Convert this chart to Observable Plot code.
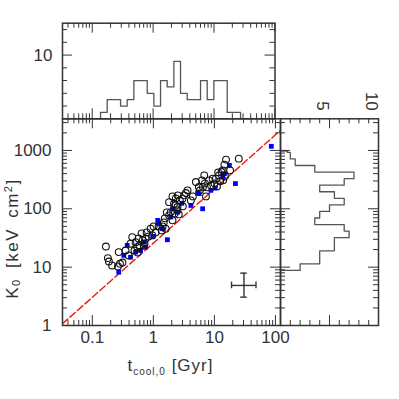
<!DOCTYPE html>
<html><head><meta charset="utf-8">
<script src="https://cdn.jsdelivr.net/npm/d3@7"></script>
<script src="https://cdn.jsdelivr.net/npm/@observablehq/plot@0.6"></script>
<style>
html,body{margin:0;padding:0;background:#fff;}
#chart{position:relative;width:399px;height:399px;background:#fff;overflow:hidden;}
#chart svg{position:absolute;left:0;top:0;background:transparent !important;}
</style></head><body><div id="chart"></div>
<script>
// ---- data ----
const circleT = [0.167,0.180,0.187,0.211,0.271,0.284,0.263,0.350,0.312,0.423,
  0.451,0.392,0.511,0.545,0.492,0.573,0.595,0.551,0.642,0.700,
  0.746,0.666,0.776,0.719,0.903,0.963,0.837,1.01,1.09,1.22,
  1.59,1.48,1.66,1.37,1.54,1.42,1.81,2.06,1.93,1.81,
  2.06,2.48,2.33,2.18,2.48,2.61,2.33,2.71,2.24,2.51,
  3.00,3.19,3.41,3.04,3.63,4.12,4.44,4.98,5.57,5.79,
  6.49,6.82,7.27,7.55,6.25,7.00,8.15,9.37,8.79,10.6,
  10.0,11.9,11.0,12.4,11.5,13.1,13.7,14.6,15.5,14.9,
  13.9,18.1,25.1];
const circleK = [22.6,14.3,12.5,10.7,18.1,11.4,10.3,19.3,12.0,25.2,
  32.7,15.9,26.8,22.0,19.3,31.1,23.6,17.9,37.9,23.6,
  30.7,28.7,39.4,25.5,45.6,35.0,33.6,49.9,39.4,49.9,
  45.6,58.5,86.8,42.6,68.5,49.9,77.1,63.3,87.8,130,
  163,93.9,114,122,107,80.2,151,139,83.4,170,
  149,170,186,110,207,139,163,287,236,207,
  236,374,163,233,307,273,307,328,252,328,
  273,374,242,295,421,426,456,571,696,360,
  307,456,723];
const squareT = [0.271,0.328,0.373,0.423,0.511,0.700,0.746,0.618,1.24,1.41,
  1.18,1.70,1.93,2.06,2.48,4.12,5.31,6.42,5.64,10.3,
  13.7,14.6,17.6,22.1,85.6,0.974,2.93,8.79];
const squareK = [8.21,15.9,23.6,14.8,18.1,26.8,22.0,19.3,55.5,45.6,
  63.3,29.5,72.1,100,87.8,114,186,100,182,227,
  350,400,555,270,1176,33.6,124,207];
const fitT = [0.0325, 121];
const fitK = [1.07, 2213];
const errorT = [19.1, 30.5, 48.0];   // low, centre, high
const errorK = [3.06, 4.86, 7.89];   // low, centre, high
const topEdgesT = [0.137,0.176,0.227,0.292,0.375,0.483,0.621,0.800,1.029,1.324,1.703,
  2.192,2.820,3.629,4.670,6.009,7.732,9.949,12.80,16.48,21.20,27.28];
const topCounts = [1,3,3,2,3,6,6,4,2,6,5,9,4,3,3,6,3,6,6,1,1];
const rightEdgesK = [8.77,11.36,14.72,19.06,24.70,31.99,41.44,53.69,69.56,90.08,
  116.7,151.2,195.8,253.7,328.6,425.6,551.3,714.3,925.1,977.2];
const rightCounts = [2,4,4,5.5,5.5,7,6.5,3.5,4,5,6.5,5.5,4,6.5,7.5,3.5,1.5,1,0.7];
const xTickLabels = [0.1, 1, 10, 100];
const yTickLabels = [1, 10, 100, 1000];
const topTickLabels = [10];
const rightTickLabels = [5, 10];

// ---- styling / layout ----
const ink = "#333";
const font = "'Liberation Sans', Arial, Helvetica, sans-serif";
const FS = 17;
const main = {L: 62, R: 280, T: 118.3, B: 325};
const topP = {L: 62, R: 274.5, T: 22.7, B: 118.3};
const rightP = {L: 280, R: 378, T: 118.3, B: 325};
const MAJ = 10, MIN = 5;

function logMinor(lo, hi) {
  const out = [];
  for (let e = -2; e <= 4; e++) for (let m = 2; m <= 9; m++) {
    const v = +(m * Math.pow(10, e)).toPrecision(6);
    if (v > lo && v < hi) out.push(v);
  }
  return out;
}
function xTicks(vals, len, fh, side) {
  const o = {x: d => d, stroke: ink, strokeWidth: 1};
  if (side === "bottom") o.insetTop = fh - len; else o.insetBottom = fh - len;
  return Plot.ruleX(vals, o);
}
function yTicks(vals, len, fw, side) {
  const o = {y: d => d, stroke: ink, strokeWidth: 1};
  if (side === "left") o.insetRight = fw - len; else o.insetLeft = fw - len;
  return Plot.ruleY(vals, o);
}
function panel(p, extra) {
  return Object.assign({
    width: 399, height: 399,
    marginLeft: p.L, marginRight: 399 - p.R, marginTop: p.T, marginBottom: 399 - p.B,
    style: {background: "transparent", fontFamily: font}
  }, extra);
}
const txt = {fontSize: FS, fill: ink, fontFamily: font};

const xDomMain = [0.0325, 121], yDom = [1, 3483];
const xMinorMain = logMinor(xDomMain[0], xDomMain[1]);
const yMinor = logMinor(yDom[0], yDom[1]);
const mFW = main.R - main.L, mFH = main.B - main.T;

// ---- main scatter panel ----
const mainSvg = Plot.plot(panel(main, {
  x: {type: "log", domain: xDomMain, axis: null},
  y: {type: "log", domain: yDom, axis: null},
  marks: [
    Plot.line(fitK, {x: fitT, y: fitK, stroke: "#f01414", strokeWidth: 1.4, strokeDasharray: "7,3", clip: true}),
    Plot.dot(squareK, {x: squareT, y: squareK, symbol: "square", r: 2.7, fill: "#0000ff"}),
    Plot.dot(circleK, {x: circleT, y: circleK, r: 3.4, stroke: "#111", strokeWidth: 1.1, fill: "none"}),
    // error cross
    Plot.ruleY([errorK[1]], {y: d => d, x1: () => errorT[0], x2: () => errorT[2], stroke: ink, strokeWidth: 1.4}),
    Plot.ruleX([errorT[1]], {x: d => d, y1: () => errorK[0], y2: () => errorK[2], stroke: ink, strokeWidth: 1.4}),
    Plot.ruleX([errorT[0], errorT[2]], {x: d => d, y1: () => errorK[1] / 1.14, y2: () => errorK[1] * 1.14, stroke: ink, strokeWidth: 1.4}),
    Plot.ruleY([errorK[0], errorK[2]], {y: d => d, x1: () => errorT[1] / 1.13, x2: () => errorT[1] * 1.13, stroke: ink, strokeWidth: 1.4}),
    // ticks
    xTicks(xTickLabels, MAJ, mFH, "bottom"), xTicks(xMinorMain, MIN, mFH, "bottom"),
    xTicks(xTickLabels, MAJ, mFH, "top"), xTicks(xMinorMain, MIN, mFH, "top"),
    yTicks(yTickLabels, MAJ, mFW, "left"), yTicks(yMinor, MIN, mFW, "left"),
    yTicks(yTickLabels, MAJ, mFW, "right"), yTicks(yMinor, MIN, mFW, "right"),
    Plot.frame({stroke: ink, strokeWidth: 1.5}),
    Plot.text(xTickLabels, {x: d => d, text: d => String(d), frameAnchor: "bottom", dy: 17, ...txt}),
    Plot.text(yTickLabels, {y: d => d, text: d => String(d), frameAnchor: "left", textAnchor: "end", dx: -11, ...txt})
  ]
}));

// axis titles with sub/superscripts
{
  const s = d3.select(mainSvg);
  const yt = s.append("text").attr("transform", "translate(18,238.5) rotate(-90)")
    .attr("text-anchor", "middle").attr("font-family", font).attr("font-size", FS)
    .attr("fill", ink).attr("letter-spacing", 1.5).attr("word-spacing", 4);
  yt.append("tspan").text("K");
  yt.append("tspan").attr("font-size", 11).attr("dy", 2).text("0");
  yt.append("tspan").attr("dy", -2).text(" [keV cm");
  yt.append("tspan").attr("font-size", 11).attr("dy", -6).text("2");
  yt.append("tspan").attr("dy", 6).text("]");
  const xt = s.append("text").attr("x", 170.5).attr("y", 371)
    .attr("text-anchor", "middle").attr("font-family", font).attr("font-size", FS)
    .attr("fill", ink).attr("letter-spacing", 1);
  xt.append("tspan").text("t");
  xt.append("tspan").attr("font-size", 10).attr("dy", 4).text("cool,0");
  xt.append("tspan").attr("dy", -4).text(" [Gyr]");
}

// ---- top histogram (t_cool) ----
const topPts = [{x: topEdgesT[0], y: 0}];
topCounts.forEach((c, i) => { topPts.push({x: topEdgesT[i], y: c}, {x: topEdgesT[i + 1], y: c}); });
topPts.push({x: topEdgesT[topEdgesT.length - 1], y: 0});
const xDomTop = [0.0325, 100.4];
const xMinorTop = logMinor(xDomTop[0], xDomTop[1]);
const tFW = topP.R - topP.L, tFH = topP.B - topP.T;
const topMinorY = [2, 4, 6, 8, 12, 14];
const topSvg = Plot.plot(panel(topP, {
  x: {type: "log", domain: xDomTop, axis: null},
  y: {domain: [0, 15], axis: null},
  marks: [
    Plot.line(topPts, {x: "x", y: "y", stroke: "#555", strokeWidth: 1.3}),
    xTicks(xTickLabels, MAJ, tFH, "bottom"), xTicks(xMinorTop, MIN, tFH, "bottom"),
    xTicks(xTickLabels, MAJ, tFH, "top"), xTicks(xMinorTop, MIN, tFH, "top"),
    yTicks(topTickLabels, MAJ, tFW, "left"), yTicks(topMinorY, MIN, tFW, "left"),
    yTicks(topTickLabels, MAJ, tFW, "right"), yTicks(topMinorY, MIN, tFW, "right"),
    Plot.frame({stroke: ink, strokeWidth: 1.5}),
    Plot.text(topTickLabels, {y: d => d, text: d => String(d), frameAnchor: "left", textAnchor: "end", dx: -10, ...txt})
  ]
}));

// ---- right histogram (K0) ----
const rightPts = [{x: 0, y: rightEdgesK[0]}];
rightCounts.forEach((c, i) => { rightPts.push({x: c, y: rightEdgesK[i]}, {x: c, y: rightEdgesK[i + 1]}); });
rightPts.push({x: 0, y: rightEdgesK[rightEdgesK.length - 1]});
const rFW = rightP.R - rightP.L, rFH = rightP.B - rightP.T;
const rightMinorX = [1, 2, 3, 4, 6, 7, 8, 9];
const rightSvg = Plot.plot(panel(rightP, {
  x: {domain: [0, 10], axis: null},
  y: {type: "log", domain: yDom, axis: null},
  marks: [
    Plot.line(rightPts, {x: "x", y: "y", stroke: "#555", strokeWidth: 1.3}),
    xTicks([5], MAJ, rFH, "top"), xTicks(rightMinorX, MIN, rFH, "top"),
    xTicks([5], MAJ, rFH, "bottom"), xTicks(rightMinorX, MIN, rFH, "bottom"),
    yTicks(yTickLabels, MAJ, rFW, "left"), yTicks(yMinor, MIN, rFW, "left"),
    yTicks(yTickLabels, MAJ, rFW, "right"), yTicks(yMinor, MIN, rFW, "right"),
    Plot.frame({stroke: ink, strokeWidth: 1.5}),
    Plot.text(rightTickLabels, {x: d => d, text: d => String(d), frameAnchor: "top", rotate: 90, textAnchor: "end", dy: -8, ...txt})
  ]
}));

const chart = document.getElementById("chart");
chart.append(topSvg, rightSvg, mainSvg);
</script></body></html>
